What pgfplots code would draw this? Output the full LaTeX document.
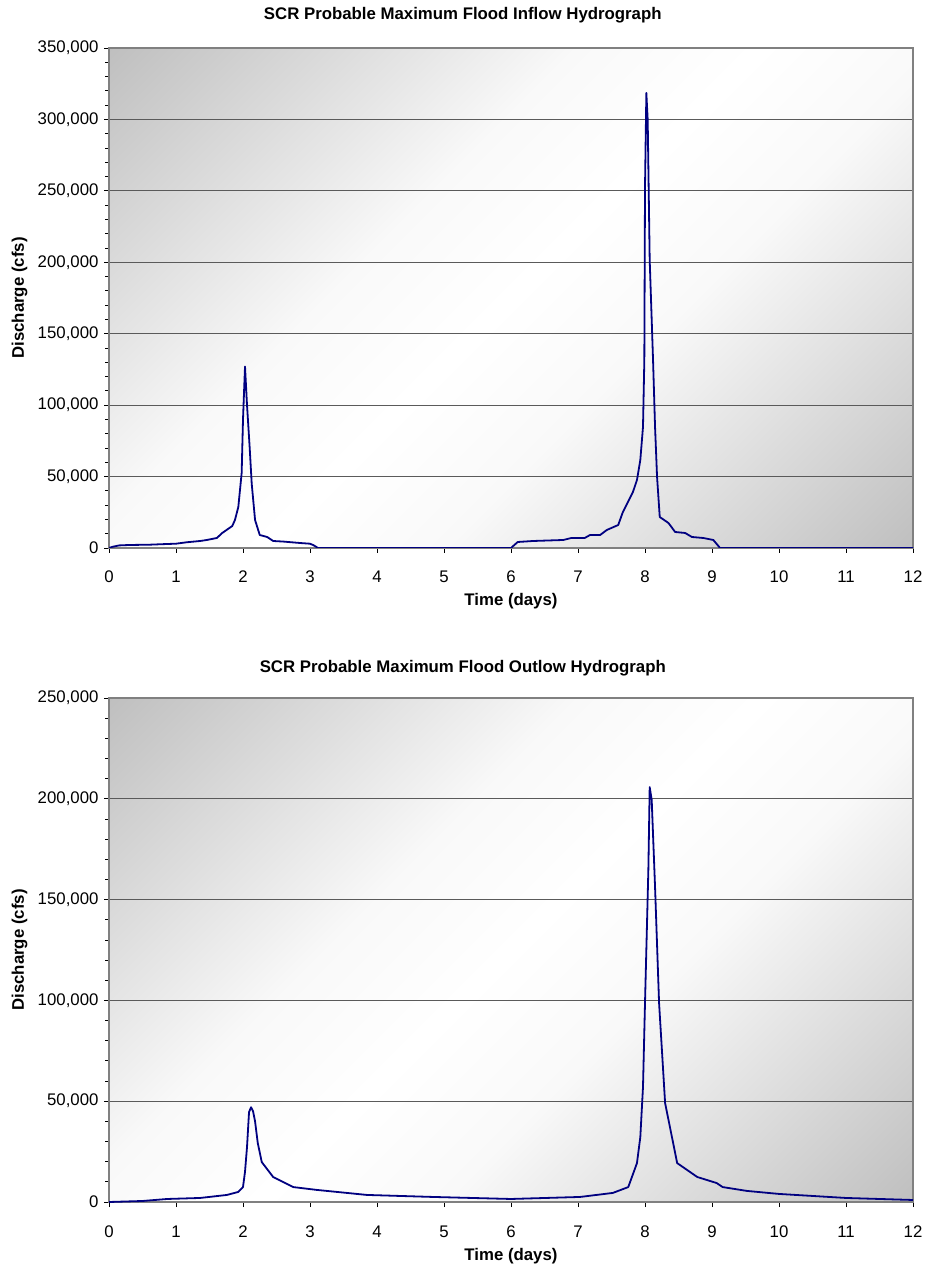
\documentclass[border=0pt]{standalone}
\usepackage{fontspec}
\setmainfont{Liberation Sans}
\usepackage{pgfplots}
\pgfplotsset{compat=1.18}

\definecolor{flowline}{RGB}{0,0,128}
\definecolor{gridgray}{RGB}{90,90,90}
\definecolor{framegray}{RGB}{128,128,128}
\definecolor{shadegray}{RGB}{190,190,190}
\definecolor{shademid}{RGB}{249,249,249}

% Excel-like diagonal gradient: grey corners, white middle
\pgfdeclareverticalshading{excelgrad}{100bp}{%
  color(0bp)=(shadegray); color(14bp)=(shadegray); color(40bp)=(shademid);
  color(50bp)=(white); color(60bp)=(shademid);
  color(86bp)=(shadegray); color(100bp)=(shadegray)}

\pgfplotsset{
  hydro/.style={
    scale only axis,
    width=804pt,
    anchor=south west,
    xmin=0, xmax=12, ymin=0,
    xtick={0,1,...,12},
    xtick pos=bottom, ytick pos=left,
    tick align=outside,
    major tick length=5pt,
    minor y tick num=4,
    minor tick length=4pt,
    tick style={black, line width=0.8pt},
    ymajorgrids,
    major grid style={gridgray, line width=0.9pt},
    axis line style={framegray, line width=1.4pt},
    scaled y ticks=false,
    /pgf/number format/assume math mode=true,
    yticklabel style={/pgf/number format/fixed, /pgf/number format/1000 sep={,}, xshift=-2pt},
    xticklabel style={anchor=base, yshift=-30pt},
    every tick label/.append style={font=\fontsize{16.8}{20}\selectfont},
    label style={font=\bfseries\fontsize{16.8}{20}\selectfont},
    xlabel style={at={(axis description cs:0.5,0)}, anchor=base, yshift=-58pt},
    ylabel style={at={(axis description cs:0,0.5)}, anchor=base, yshift=85pt},
    title style={font=\bfseries\fontsize{16.8}{20}\selectfont, at={(axis description cs:0.44,1)}, anchor=base},
    axis background/.style={shading=excelgrad, shading angle=45},
    xlabel={Time (days)},
    ylabel={Discharge (cfs)},
  }
}

\begin{document}
\begin{tikzpicture}
\path[use as bounding box] (0,0) rectangle (927pt,1268pt);

% inflow
\begin{axis}[hydro, at={(109pt,720pt)}, height=500pt, ymax=350000,
  ytick distance=50000,
  title style={yshift=22.5pt},
  title={SCR Probable Maximum Flood Inflow Hydrograph}]
\addplot[flowline, line width=1.8pt, line join=round] coordinates {
(0,0) (0.05,800) (0.15,1800) (0.3,2100) (0.6,2300) (0.87,2800) (1.0,3000)
(1.16,4000) (1.36,4900) (1.46,5600) (1.61,7000) (1.69,10500) (1.84,15400)
(1.88,19600) (1.93,28700) (1.98,52500) (2.0,90000) (2.03,127000) (2.06,100000)
(2.1,70000) (2.13,45000) (2.18,19600) (2.25,9100) (2.36,7700) (2.45,4900)
(2.6,4500) (2.85,3500) (3.0,3000) (3.05,2000) (3.12,0)
(6.0,0) (6.1,4200) (6.33,4900) (6.78,5600) (6.9,7000) (7.1,7000) (7.18,9100)
(7.33,9100) (7.43,12600) (7.6,16100) (7.67,25200) (7.82,39200) (7.88,47600)
(7.93,61600) (7.97,84700) (7.99,131600) (8.0,252700) (8.02,318500) (8.04,300000)
(8.07,201600) (8.12,131600) (8.15,84700) (8.18,49700) (8.22,21700) (8.35,17500)
(8.45,11200) (8.6,10500) (8.7,7700) (8.87,7000) (9.02,5600) (9.12,0) (12,0)
};
\end{axis}

% outflow
\begin{axis}[hydro, at={(109pt,66pt)}, height=504pt, ymax=250000,
  ytick distance=50000,
  title style={yshift=19pt},
  title={SCR Probable Maximum Flood Outlow Hydrograph}]
\addplot[flowline, line width=1.8pt, line join=round] coordinates {
(0,0) (0.5,500) (0.87,1500) (1.36,2000) (1.76,3500) (1.93,5000) (2.0,7400)
(2.03,15000) (2.06,27300) (2.09,44600) (2.12,47000) (2.15,45000) (2.18,40000)
(2.22,29300) (2.28,19800) (2.45,12400) (2.75,7400) (3.1,6000) (3.85,3500)
(4.84,2500) (6.0,1500) (7.03,2500) (7.52,4500) (7.75,7400) (7.88,19300)
(7.93,32200) (7.97,57000) (8.0,98700) (8.05,164700) (8.07,205800) (8.1,199400)
(8.15,156200) (8.21,98700) (8.3,49100) (8.48,19300) (8.78,12400) (9.07,9400)
(9.16,7400) (9.52,5500) (10.0,4000) (11.0,2000) (12.0,1000)
};
\end{axis}
\end{tikzpicture}
\end{document}
